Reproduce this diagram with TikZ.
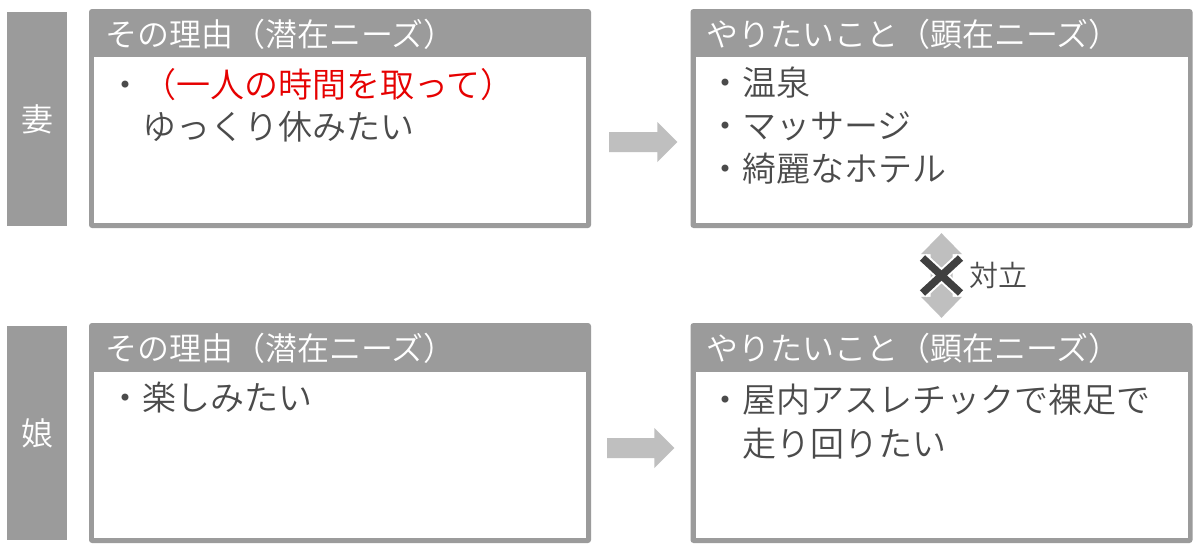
\documentclass[tikz,border=0pt]{standalone}
\usepackage{fontspec}
\setmainfont{Noto Sans CJK JP}[UprightFont=* DemiLight]
\usetikzlibrary{calc}
\definecolor{framegray}{RGB}{155,155,155}
\definecolor{arrowgray}{RGB}{191,191,191}
\definecolor{textgray}{RGB}{75,75,75}
\definecolor{xgray}{RGB}{64,64,64}
\definecolor{needred}{RGB}{230,0,0}
\newcommand\blockarrowLR[2]{%
  \fill[fatarrow] ($(#1)+(0,-10)$) -- ($(#2)+(-20,-10)$) -- ($(#2)+(-20,-20)$) -- (#2)
    -- ($(#2)+(-20,20)$) -- ($(#2)+(-20,10)$) -- ($(#1)+(0,10)$) -- cycle;}
\begin{document}
\begin{tikzpicture}[x=1pt,y=-1pt,
  sidelabel/.style={fill=framegray, minimum width=60pt, minimum height=214pt, inner sep=0pt,
    text=white, font=\fontsize{32}{38}\selectfont},
  framebox/.style={fill=framegray, rounded corners=3pt, inner sep=0pt,
    minimum width=502pt, minimum height=219pt},
  bodyarea/.style={fill=white, inner sep=0pt, minimum width=492pt, minimum height=166pt},
  hdrtext/.style={anchor=base west, inner sep=0pt, text=white, font=\fontsize{32}{38}\selectfont},
  bodytext/.style={anchor=base west, inner sep=0pt, text=textgray, font=\fontsize{34}{40}\selectfont},
  fatarrow/.style={fill=arrowgray},
  xline/.style={line width=7.5pt, draw=xgray, line cap=butt},
  xhalo/.style={line width=11.5pt, draw=white, line cap=butt},
  conflicttext/.style={anchor=west, inner sep=0pt, text=textgray, font=\fontsize{29}{34}\selectfont}
]
\useasboundingbox (0,0) rectangle (1200,547);
\fill[white] (0,0) rectangle (1200,547);

% side labels
\node[sidelabel] (wife) at (37,119) {妻};
\node[sidelabel] (daughter) at (37,433) {娘};

% frames
\node[framebox] (r1) at (340,118.5) {};
\node[framebox] (n1) at (941.5,118.5) {};
\node[framebox, minimum height=220pt] (r2) at (340,433) {};
\node[framebox, minimum height=220pt] (n2) at (941.5,433) {};
\node[bodyarea, anchor=south] (r1b) at ($(r1.south)+(0,-5)$) {};
\node[bodyarea, anchor=south] (n1b) at ($(n1.south)+(0,-5)$) {};
\node[bodyarea, anchor=south] (r2b) at ($(r2.south)+(0,-5)$) {};
\node[bodyarea, anchor=south] (n2b) at ($(n2.south)+(0,-5)$) {};

% headers
\node[hdrtext] (r1h) at (105,46) {その理由（潜在ニーズ）};
\node[hdrtext] (n1h) at (706,46) {やりたいこと（顕在ニーズ）};
\node[hdrtext] (r2h) at (105,360.5) {その理由（潜在ニーズ）};
\node[hdrtext] (n2h) at (706,360.5) {やりたいこと（顕在ニーズ）};

% body texts
\node[bodytext] (r1t1) at (108,97) {・\textcolor{needred}{（一人の時間を取って）}};
\node[bodytext] (r1t2) at (142,139) {ゆっくり休みたい};
\node[bodytext] (n1t1) at (708,95) {・温泉};
\node[bodytext] (n1t2) at (708,138) {・マッサージ};
\node[bodytext] (n1t3) at (708,181) {・綺麗なホテル};
\node[bodytext] (r2t1) at (108,410) {・楽しみたい};
\node[bodytext] (n2t1) at (708,412.5) {・屋内アスレチックで裸足で};
\node[bodytext] (n2t2) at (742,456.5) {走り回りたい};

% block arrows
\coordinate (a1s) at ($(r1.east |- r1b.east)+(18,2)$);
\coordinate (a1e) at ($(n1.west |- r1b.east)+(-13,2)$);
\blockarrowLR{a1s}{a1e}
\coordinate (a2s) at ($(r2.east |- r2b.east)+(16,-7)$);
\coordinate (a2e) at ($(n2.west |- r2b.east)+(-16,-7)$);
\blockarrowLR{a2s}{a2e}

% conflict double arrow
\coordinate (dtop) at ($(n1.south)+(0,5)$);
\coordinate (dbot) at ($(n2.north)+(0,-5)$);
\coordinate (xc) at ($(dtop)!0.5!(dbot)$);
\fill[fatarrow] (dtop) -- ($(dtop)+(20.5,21)$) -- ($(dtop)+(11,21)$) -- ($(dbot)+(11,-21)$)
  -- ($(dbot)+(20.5,-21)$) -- (dbot) -- ($(dbot)+(-20.5,-21)$) -- ($(dbot)+(-11,-21)$)
  -- ($(dtop)+(-11,21)$) -- ($(dtop)+(-20.5,21)$) -- cycle;
\draw[xhalo] ($(xc)+(-19,-17.5)$) -- ($(xc)+(19,17.5)$);
\draw[xhalo] ($(xc)+(-19,17.5)$) -- ($(xc)+(19,-17.5)$);
\draw[xline] ($(xc)+(-19,-17.5)$) -- ($(xc)+(19,17.5)$);
\draw[xline] ($(xc)+(-19,17.5)$) -- ($(xc)+(19,-17.5)$);
\node[conflicttext] (conflict) at ($(xc)+(28,0)$) {対立};
\end{tikzpicture}
\end{document}
